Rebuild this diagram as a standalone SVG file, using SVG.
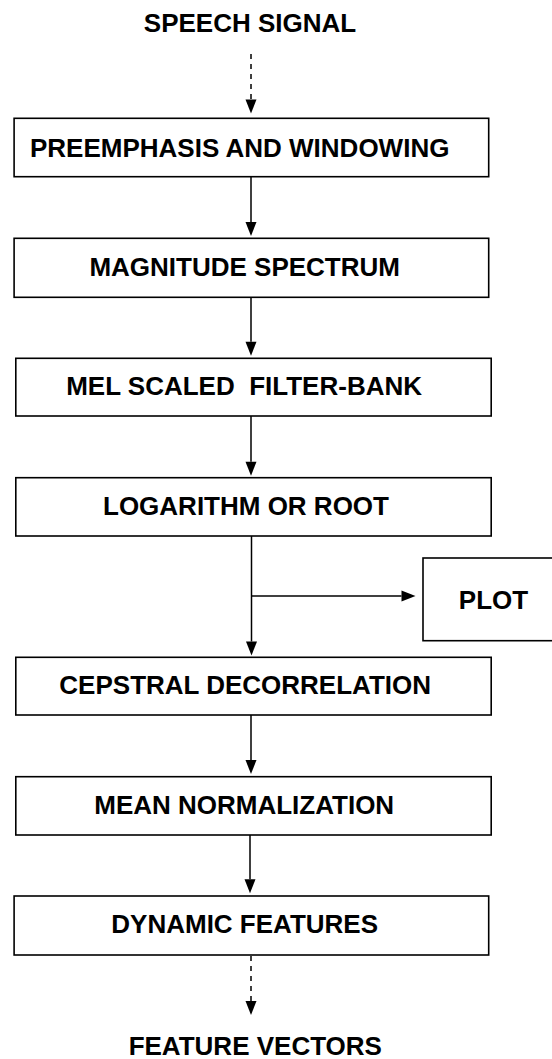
<svg xmlns="http://www.w3.org/2000/svg" width="552" height="1059" viewBox="0 0 552 1059">
  <style>
    .box { fill: #ffffff; stroke: #000000; stroke-width: 1.6; }
    .lbl { font-family: "Liberation Sans", Arial, sans-serif; font-weight: bold; font-size: 26px; fill: #000000; }
    .mid { text-anchor: middle; }
    .wire { fill: none; stroke: #000000; stroke-width: 1.5; }
    .dash { stroke-dasharray: 5 5; }
  </style>
  <defs>
    <marker id="head" markerUnits="userSpaceOnUse" markerWidth="15" markerHeight="12" refX="0" refY="5.5" orient="auto" overflow="visible">
      <path d="M0,0 L14,5.5 L0,11 Z" fill="#000000"/>
    </marker>
  </defs>
  <rect width="552" height="1059" fill="#ffffff"/>

  <!-- connectors -->
  <g id="connectors">
    <path class="wire dash" d="M251,54 V99.5" marker-end="url(#head)"/>
    <path class="wire" d="M251,176.7 V222" marker-end="url(#head)"/>
    <path class="wire" d="M251,297.3 V341.7" marker-end="url(#head)"/>
    <path class="wire" d="M251,416 V461.7" marker-end="url(#head)"/>
    <path class="wire" d="M251.5,536 V641.5" marker-end="url(#head)"/>
    <path class="wire" d="M251.5,596 H401.5" marker-end="url(#head)"/>
    <path class="wire" d="M251,715 V760" marker-end="url(#head)"/>
    <path class="wire" d="M250,835 V879.3" marker-end="url(#head)"/>
    <path class="wire dash" d="M251,956 V1001" marker-end="url(#head)"/>
  </g>

  <!-- terminals -->
  <g id="input">
    <text class="lbl mid" x="250" y="31.7">SPEECH SIGNAL</text>
  </g>
  <g id="output">
    <text class="lbl mid" x="255.3" y="1055">FEATURE VECTORS</text>
  </g>

  <!-- processing stages -->
  <g id="preemphasis">
    <rect class="box" x="14.1" y="118.3" width="474.6" height="58.4"/>
    <text class="lbl" x="30" y="156.7">PREEMPHASIS AND WINDOWING</text>
  </g>
  <g id="magnitude">
    <rect class="box" x="14.1" y="238.3" width="474.6" height="59"/>
    <text class="lbl mid" x="244.7" y="276">MAGNITUDE SPECTRUM</text>
  </g>
  <g id="filterbank">
    <rect class="box" x="15.8" y="358.3" width="475.4" height="57.7"/>
    <text class="lbl" x="66.2" y="395" xml:space="preserve" style="white-space: pre">MEL SCALED  FILTER-BANK</text>
  </g>
  <g id="logarithm">
    <rect class="box" x="15.8" y="477.7" width="475.4" height="58.3"/>
    <text class="lbl mid" x="246" y="515">LOGARITHM OR ROOT</text>
  </g>
  <g id="plot">
    <rect class="box" x="423" y="558" width="140" height="82.7"/>
    <text class="lbl mid" x="493.5" y="609.3">PLOT</text>
  </g>
  <g id="cepstral">
    <rect class="box" x="15.8" y="657.3" width="475.4" height="57.7"/>
    <text class="lbl mid" x="245.2" y="694.3">CEPSTRAL DECORRELATION</text>
  </g>
  <g id="mean">
    <rect class="box" x="15.8" y="776.7" width="475.4" height="58.3"/>
    <text class="lbl mid" x="244.2" y="814">MEAN NORMALIZATION</text>
  </g>
  <g id="dynamic">
    <rect class="box" x="14.1" y="896" width="474.6" height="59"/>
    <text class="lbl mid" x="244.7" y="933.3">DYNAMIC FEATURES</text>
  </g>
</svg>
